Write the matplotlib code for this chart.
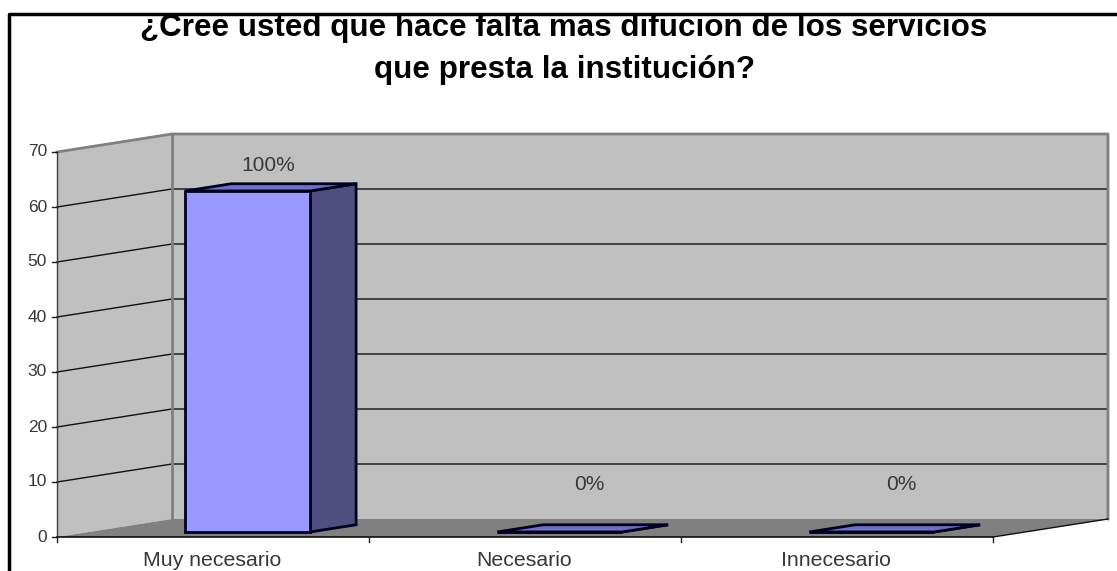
import matplotlib
matplotlib.use("Agg")
import matplotlib.pyplot as plt
from matplotlib.patches import Polygon, Rectangle

title_lines = ["¿Cree usted que hace falta mas difucion de los servicios",
               "que presta la institución?"]
categories = ["Muy necesario", "Necesario", "Innecesario"]
values = [62, 0, 0]
value_labels = ["100%", "0%", "0%"]
y_ticks = [0, 10, 20, 30, 40, 50, 60, 70]

W, H = 1117, 571
fig = plt.figure(figsize=(W / 100, H / 100), dpi=100, facecolor="white")
ax = fig.add_axes([0, 0, 1, 1])
ax.set_xlim(0, W)
ax.set_ylim(H, 0)
ax.axis("off")
plt.rcParams["font.family"] = ["Liberation Sans", "DejaVu Sans"]

# Oblique projection: cat position (0..3), value, depth (0 front .. 1 back)
X0, X3, Y0, YTOP, VMAX = 57, 993, 537, 152, 70
DX, DY = 115, -18

def proj(c, v, d=0.0):
    return (X0 + (X3 - X0) * c / 3 + DX * d,
            Y0 + (YTOP - Y0) * v / VMAX + DY * d)

WALL = "#C0C0C0"
FLOOR = "#808080"

# walls and floor
ax.add_patch(Polygon([proj(0, 0), proj(0, VMAX), proj(0, VMAX, 1), proj(0, 0, 1)],
                     fc=WALL, ec="none", zorder=1))
ax.add_patch(Polygon([proj(0, 0, 1), proj(0, VMAX, 1), proj(3, VMAX, 1), proj(3, 0, 1)],
                     fc=WALL, ec="none", zorder=1))
ax.add_patch(Polygon([proj(0, 0), proj(3, 0), proj(3, 0, 1), proj(0, 0, 1)],
                     fc=FLOOR, ec="none", zorder=1))

# gridlines
for v in y_ticks[1:-1]:
    a, b, c = proj(0, v), proj(0, v, 1), proj(3, v, 1)
    ax.plot([a[0], b[0], c[0]], [a[1], b[1], c[1]], color="#101010", lw=1, zorder=2)

# wall outlines
for pts in ([proj(0, VMAX), proj(0, VMAX, 1), proj(3, VMAX, 1), proj(3, 0, 1)],
            [proj(0, 0, 1), proj(0, VMAX, 1)]):
    ax.plot(*zip(*pts), color="#808080", lw=2, zorder=2)

# axis lines and ticks
ax.plot(*zip(proj(0, 0), proj(0, VMAX)), color="#404040", lw=1, zorder=3)
ax.plot(*zip(proj(0, 0), proj(3, 0)), color="#101010", lw=1.2, zorder=3)
ax.plot(*zip(proj(3, 0), proj(3, 0, 1)), color="#101010", lw=1, zorder=3)
TXT = "#383838"
for v in y_ticks:
    x, y = proj(0, v)
    ax.plot([x - 5, x], [y, y], color="#202020", lw=1, zorder=3)
    ax.text(x - 10, y, str(v), ha="right", va="center", fontsize=12.5, color=TXT)
for i in range(4):
    x, y = proj(i, 0)
    ax.plot([x, x], [y, y + 5], color="#202020", lw=1, zorder=3)

# bars
D0, D1 = 0.28, 0.68
C0, C1 = 0.308, 0.708
EDGE = "#000020"
for i, (val, lab, cat) in enumerate(zip(values, value_labels, categories)):
    c0, c1 = i + C0, i + C1
    front = [proj(c0, 0, D0), proj(c1, 0, D0), proj(c1, val, D0), proj(c0, val, D0)]
    side = [proj(c1, 0, D0), proj(c1, 0, D1), proj(c1, val, D1), proj(c1, val, D0)]
    top = [proj(c0, val, D0), proj(c1, val, D0), proj(c1, val, D1), proj(c0, val, D1)]
    lw = 2
    ax.add_patch(Polygon(side, fc="#4F4F80", ec=EDGE, lw=lw, zorder=4))
    ax.add_patch(Polygon(top, fc="#7070C0", ec=EDGE, lw=lw, zorder=4))
    ax.add_patch(Polygon(front, fc="#9999FF", ec=EDGE, lw=lw, zorder=5))
    tx, ty = proj((c0 + c1) / 2, val, D1)
    ax.text(tx - 25 if val else tx - 16, ty - 18 if val else ty - 40, lab,
            ha="center", va="center", fontsize=15, color=TXT, zorder=6)
    lx, ly = proj(i + 0.5, 0)
    ax.text(lx - 1, ly + 24, cat, ha="center", va="center", fontsize=15.3, color=TXT)

# chart frame
ax.plot([8.5, 8.5, W], [H, 14, 14], color="black", lw=2.5, zorder=8)

# title, clipped by the frame at its top
clip = Rectangle((0, 15), W, H, transform=ax.transData)
for line, yy in zip(title_lines, (28, 70)):
    t = ax.text(564, yy, line, ha="center", va="center", fontsize=22.6,
                fontweight="bold", color="black", zorder=7)
    t.set_clip_path(clip)
    t.set_clip_on(True)

fig.savefig("out.png", dpi=100)
